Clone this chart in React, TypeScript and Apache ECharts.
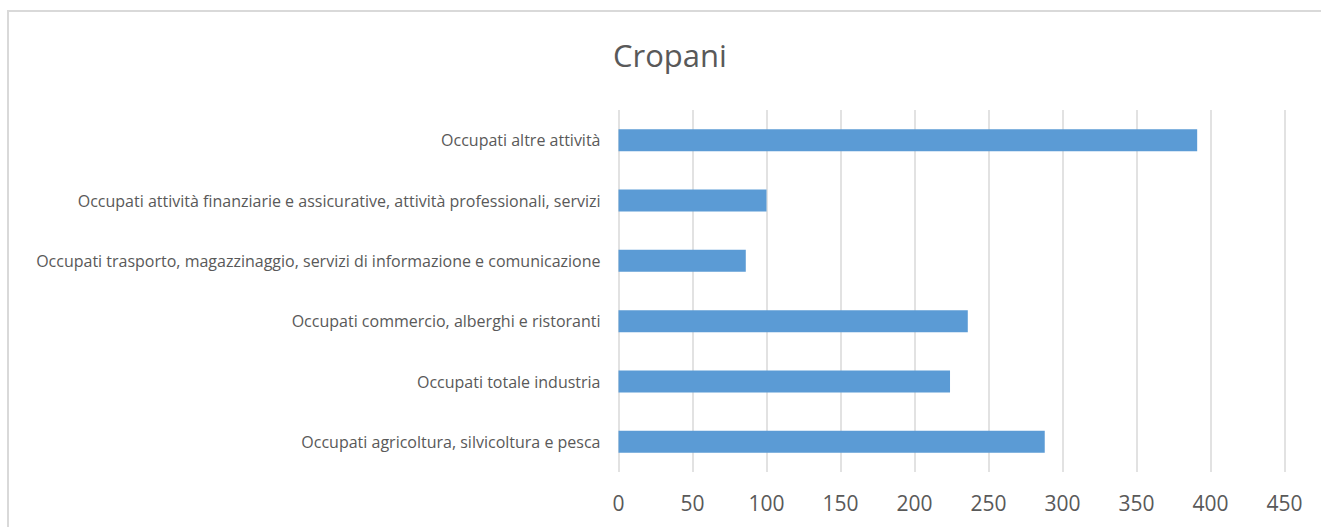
import React, { useEffect, useRef } from "react";
import * as echarts from "echarts";

const title = "Cropani";
const categories = [
  "Occupati agricoltura, silvicoltura e pesca",
  "Occupati totale industria",
  "Occupati commercio, alberghi e ristoranti",
  "Occupati trasporto, magazzinaggio, servizi di informazione e comunicazione",
  "Occupati attività finanziarie e assicurative, attività professionali, servizi",
  "Occupati altre attività",
];
const values = [288, 224, 236, 86, 100, 391];
const xMin = 0;
const xMax = 450;
const xInterval = 50;

export default function App() {
  const ref = useRef<HTMLDivElement>(null);
  useEffect(() => {
    if (!ref.current) return;
    const chart = echarts.init(ref.current, null, { renderer: "svg" });
    const font = "'Open Sans', 'Segoe UI', sans-serif";
    chart.setOption({
      animation: false,
      backgroundColor: "#ffffff",
      title: {
        text: title,
        left: 608,
        top: 34,
        textStyle: { fontFamily: font, fontSize: 31, fontWeight: "normal", color: "#595959" },
      },
      graphic: [
        {
          type: "rect",
          shape: { x: 8, y: 11, width: 1400, height: 700 },
          style: { fill: "none", stroke: "#d9d9d9", lineWidth: 2 },
          silent: true,
        },
      ],
      grid: { left: 618.5, right: 36.5, top: 110, bottom: 55, containLabel: false },
      xAxis: {
        type: "value",
        min: xMin,
        max: xMax,
        interval: xInterval,
        axisLine: { show: false },
        axisTick: { show: false },
        axisLabel: { fontFamily: font, fontSize: 21, color: "#595959", margin: 20 },
        splitLine: { show: true, lineStyle: { color: "#d9d9d9", width: 1.5 } },
      },
      yAxis: {
        type: "category",
        data: categories,
        axisLine: { show: false },
        axisTick: { show: false },
        axisLabel: { fontFamily: font, fontSize: 16, color: "#595959", margin: 18 },
      },
      series: [
        {
          type: "bar",
          data: values,
          barWidth: 22,
          itemStyle: { color: "#5b9bd5" },
        },
      ],
    });
    return () => chart.dispose();
  }, []);
  return (
    <div
      ref={ref}
      style={{ position: "fixed", left: 0, top: 0, width: 1321, height: 527 }}
    />
  );
}
